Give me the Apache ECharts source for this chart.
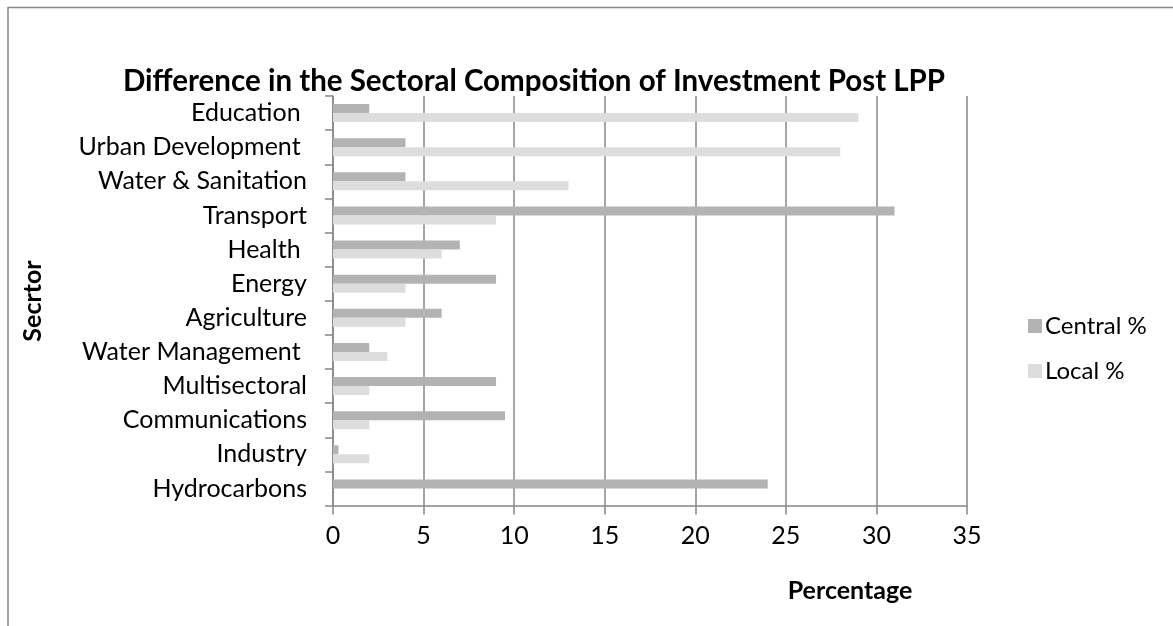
<!DOCTYPE html>
<html>
<head>
<meta charset="utf-8">
<script src="https://cdn.jsdelivr.net/npm/echarts@6/dist/echarts.min.js"></script>
<style>
  html, body { margin: 0; padding: 0; background: #fff; }
  #chart { width: 1173px; height: 626px; }
</style>
</head>
<body>
<div id="chart"></div>
<script>
// Sectors, top to bottom
const sectors = [
  'Education ', 'Urban Development ', 'Water & Sanitation', 'Transport', 'Health ',
  'Energy', 'Agriculture', 'Water Management ', 'Multisectoral', 'Communications',
  'Industry', 'Hydrocarbons'
];
// Share of investment by sector (%)
const centralPct = [2, 4, 4, 31, 7, 9, 6, 2, 9, 9.5, 0.3, 24];
const localPct   = [29, 28, 13, 9, 6, 4, 4, 3, 2, 2, 2, 0];
const xTicks = { min: 0, max: 35, interval: 5 };

const FONT = 'Lato, "Open Sans", sans-serif';
const GRID_COLOR = '#878787';
const LABEL_SIZE = 25;

const chart = echarts.init(document.getElementById('chart'), null, { renderer: 'canvas' });
chart.setOption({
  backgroundColor: '#ffffff',
  animation: false,
  textStyle: { fontFamily: FONT, color: '#000' },
  title: {
    text: 'Difference in the Sectoral Composition of Investment Post LPP',
    left: 529, top: 61, textAlign: 'center',
    textStyle: { fontFamily: FONT, fontSize: 29.5, fontWeight: 'bold', color: '#000' }
  },
  graphic: [
    {
      type: 'rect',
      shape: { x: 8, y: 7.5, width: 1300, height: 800 },
      style: { fill: 'none', stroke: GRID_COLOR, lineWidth: 1.5 },
      silent: true
    },
    {
      type: 'text', x: 850, y: 591,
      style: {
        text: 'Percentage', fontFamily: FONT, fontSize: 25, fontWeight: 'bold',
        fill: '#000', align: 'center', verticalAlign: 'middle'
      },
      silent: true
    },
    {
      type: 'text', x: 33, y: 301, rotation: Math.PI / 2,
      style: {
        text: 'Secrtor', fontFamily: FONT, fontSize: 25, fontWeight: 'bold',
        fill: '#000', align: 'center', verticalAlign: 'middle'
      },
      silent: true
    }
  ],
  legend: {
    orient: 'vertical',
    left: 1023, top: 309,
    itemWidth: 14, itemHeight: 14, itemGap: 21,
    icon: 'rect',
    textStyle: { fontFamily: FONT, fontSize: 24, lineHeight: 20, color: '#000', padding: [0, 0, 0, -2] },
    data: ['Central %', 'Local %']
  },
  grid: { left: 333, top: 96, width: 634, height: 409.5, outerBoundsMode: 'none', containLabel: false },
  xAxis: {
    type: 'value',
    min: xTicks.min, max: xTicks.max, interval: xTicks.interval,
    axisLine: { show: true, lineStyle: { color: GRID_COLOR, width: 1.5 } },
    axisTick: { show: true, length: 9, lineStyle: { color: GRID_COLOR, width: 1.5 } },
    axisLabel: { fontFamily: FONT, fontSize: LABEL_SIZE, color: '#000', margin: 18 },
    splitLine: { show: true, lineStyle: { color: GRID_COLOR, width: 1.5 } }
  },
  yAxis: {
    type: 'category',
    inverse: true,
    data: sectors,
    axisLine: { show: true, onZero: false, lineStyle: { color: GRID_COLOR, width: 1.5 } },
    axisTick: { show: true, length: 8, lineStyle: { color: GRID_COLOR, width: 1.5 } },
    axisLabel: { fontFamily: FONT, fontSize: LABEL_SIZE, color: '#000', margin: 26 },
    splitLine: { show: false }
  },
  series: [
    {
      name: 'Central %', type: 'bar', data: centralPct,
      barWidth: 9, barGap: '0%',
      itemStyle: { color: '#b3b3b3' }
    },
    {
      name: 'Local %', type: 'bar', data: localPct,
      barWidth: 9, barGap: '0%',
      itemStyle: { color: '#dddddd' }
    }
  ]
});
</script>
</body>
</html>
